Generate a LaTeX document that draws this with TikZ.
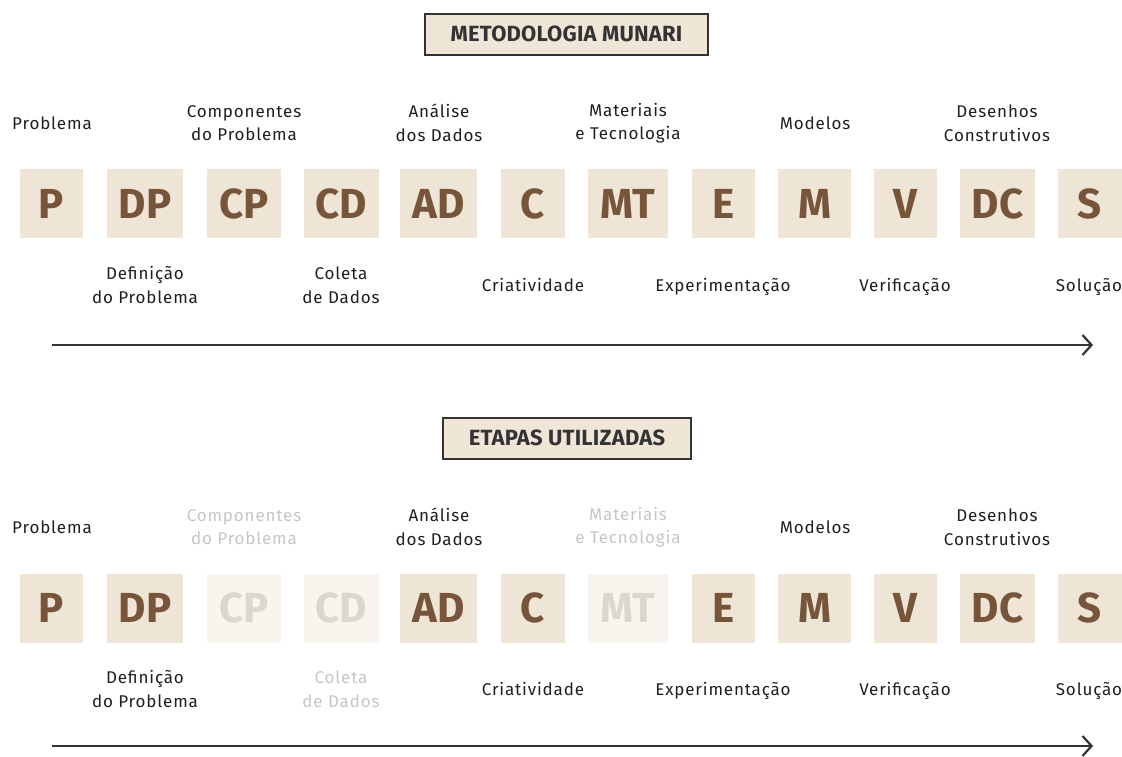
\documentclass[tikz,border=0pt]{standalone}
\usepackage{fontspec}
\setmainfont{Fira Sans}
\newfontfamily\lblfam[LetterSpace=5]{Fira Sans}
\newfontfamily\ttlfam[LetterSpace=1]{Fira Sans}
\usetikzlibrary{arrows.meta}
\definecolor{boxfill}{HTML}{EFE5D6}
\definecolor{boxtext}{HTML}{76553A}
\definecolor{fadefill}{HTML}{F8F4EE}
\definecolor{fadetext}{HTML}{DDD6CF}
\definecolor{lbltext}{HTML}{1E1E1E}
\definecolor{fadelbl}{HTML}{C6C6C6}
\definecolor{titlefill}{HTML}{F0E6D8}
\definecolor{titledraw}{HTML}{333333}
\definecolor{arrowcol}{HTML}{333333}
\newcommand\letterfont{\fontsize{42}{46}\selectfont\bfseries}
\newcommand\labelfont{\lblfam\fontsize{17}{23.5}\selectfont}
\newcommand\titlefont{\ttlfam\fontsize{22}{26}\selectfont\bfseries}
\tikzset{
  cell/.style={fill=boxfill, minimum height=69pt, inner sep=0pt, font=\letterfont, text=boxtext},
  cellfaded/.style={cell, fill=fadefill, text=fadetext},
  lbl/.style={font=\labelfont, align=center, text=lbltext, inner sep=0pt},
  lblfaded/.style={lbl, text=fadelbl},
  titlebox/.style={draw=titledraw, line width=2pt, fill=titlefill, minimum height=41pt, inner sep=0pt, font=\titlefont, text=titledraw},
  flow/.style={draw=arrowcol, line width=2.2pt, -{Straight Barb[length=9pt,width=20pt,line width=2.2pt]}}
}
\begin{document}
\begin{tikzpicture}[x=1pt,y=-1pt]
\useasboundingbox (0,0) rectangle (1122,756);
% ---- top section
\node[titlebox, minimum width=283pt] (title1) at (566.5,34) {METODOLOGIA MUNARI};
\foreach \i/\x/\w/\t in {1/51.5/63/P, 2/145/76/DP, 3/244/74/CP, 4/341.5/75/CD, 5/438.5/77/AD, 6/533/64/C, 7/628/80/MT, 8/723.5/63/E, 9/814.5/73/M, 10/905.5/63/V, 11/997.5/75/DC, 12/1089.5/64/S}
  {\node[cell, minimum width=\w pt] (t\i) at (\x,203.5) {\t};}
\node[lbl] (tl1) at (52,123) {Problema};
\node[lbl] (tl2) at (145,285) {Definição\\do Problema};
\node[lbl] (tl3) at (244,123) {Componentes\\do Problema};
\node[lbl] (tl4) at (341,285) {Coleta\\de Dados};
\node[lbl] (tl5) at (439,123) {Análise\\dos Dados};
\node[lbl] (tl6) at (533,285) {Criatividade};
\node[lbl] (tl7) at (628,123) {Materiais\\e Tecnologia};
\node[lbl] (tl8) at (723,287) {Experimentação};
\node[lbl] (tl9) at (815,123) {Modelos};
\node[lbl] (tl10) at (905,287) {Verificação};
\node[lbl] (tl11) at (997,123) {Desenhos\\Construtivos};
\node[lbl] (tl12) at (1089,287) {Solução};
\coordinate (a1s) at (52,345);
\coordinate (a1e) at (1093,345);
\draw[flow] (a1s) -- (a1e);
% ---- bottom section
\node[titlebox, minimum width=248pt] (title2) at (567,438) {ETAPAS UTILIZADAS};
\foreach \i/\x/\w/\t/\s in {1/51.5/63/P/cell, 2/145/76/DP/cell, 3/244/74/CP/cellfaded, 4/341.5/75/CD/cellfaded, 5/438.5/77/AD/cell, 6/533/64/C/cell, 7/628/80/MT/cellfaded, 8/723.5/63/E/cell, 9/814.5/73/M/cell, 10/905.5/63/V/cell, 11/997.5/75/DC/cell, 12/1089.5/64/S/cell}
  {\node[\s, minimum width=\w pt] (b\i) at (\x,608) {\t};}
\node[lbl] (bl1) at (52,527) {Problema};
\node[lbl] (bl2) at (145,689) {Definição\\do Problema};
\node[lblfaded] (bl3) at (244,527) {Componentes\\do Problema};
\node[lblfaded] (bl4) at (341,689) {Coleta\\de Dados};
\node[lbl] (bl5) at (439,527) {Análise\\dos Dados};
\node[lbl] (bl6) at (533,689) {Criatividade};
\node[lblfaded] (bl7) at (628,527) {Materiais\\e Tecnologia};
\node[lbl] (bl8) at (723,691) {Experimentação};
\node[lbl] (bl9) at (815,527) {Modelos};
\node[lbl] (bl10) at (905,691) {Verificação};
\node[lbl] (bl11) at (997,527) {Desenhos\\Construtivos};
\node[lbl] (bl12) at (1089,691) {Solução};
\coordinate (a2s) at (52,746);
\coordinate (a2e) at (1093,746);
\draw[flow] (a2s) -- (a2e);
\end{tikzpicture}
\end{document}
